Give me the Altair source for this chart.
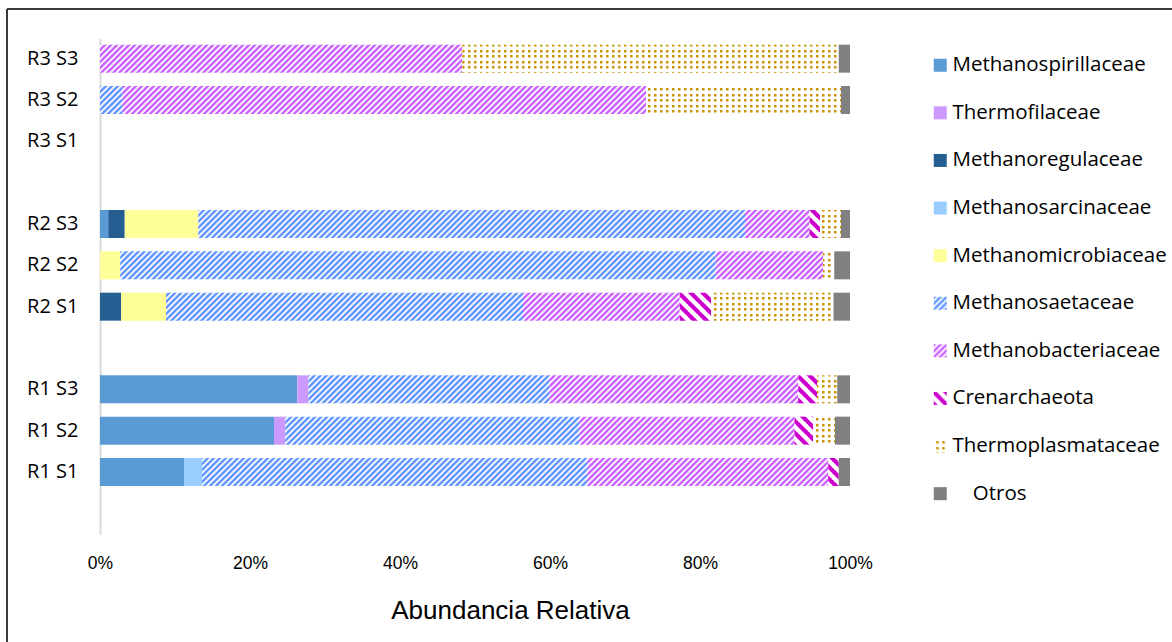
import altair as alt
import jinja2
import pandas as pd

# --- data -------------------------------------------------------------
samples = ["R1 S1", "R1 S2", "R1 S3", "R2 S1", "R2 S2", "R2 S3", "R3 S1", "R3 S2", "R3 S3"]

# rows from top to bottom; blank strings leave an empty band between groups
row_order = ["R3 S3", "R3 S2", "R3 S1", " ", "R2 S3", "R2 S2", "R2 S1", "  ",
             "R1 S3", "R1 S2", "R1 S1", "   "]

family_names = ["Methanospirillaceae", "Thermofilaceae", "Methanoregulaceae",
                "Methanosarcinaceae", "Methanomicrobiaceae", "Methanosaetaceae",
                "Methanobacteriaceae", "Crenarchaeota", "Thermoplasmataceae", "Otros"]

# relative abundance (%) per sample, same order as `samples`
methanospirillaceae = [11.2, 23.2, 26.3, 0.0, 0.0, 1.1, 0.0, 0.0, 0.0]
thermofilaceae = [0.0, 1.5, 1.5, 0.0, 0.0, 0.0, 0.0, 0.0, 0.0]
methanoregulaceae = [0.0, 0.0, 0.0, 2.8, 0.0, 2.2, 0.0, 0.0, 0.0]
methanosarcinaceae = [2.4, 0.0, 0.0, 0.0, 0.0, 0.0, 0.0, 0.0, 0.0]
methanomicrobiaceae = [0.0, 0.0, 0.0, 6.0, 2.7, 9.8, 0.0, 0.0, 0.0]
methanosaetaceae = [51.4, 39.2, 32.1, 47.6, 79.4, 72.9, 0.0, 3.0, 0.0]
methanobacteriaceae = [32.1, 28.7, 33.2, 20.9, 14.3, 8.6, 0.0, 69.8, 48.3]
crenarchaeota = [1.4, 2.5, 2.5, 4.2, 0.0, 1.4, 0.0, 0.0, 0.0]
thermoplasmataceae = [0.0, 2.9, 2.7, 16.3, 1.5, 2.8, 0.0, 26.0, 50.2]
otros = [1.5, 2.0, 1.7, 2.2, 2.1, 1.2, 0.0, 1.2, 1.5]

series = [methanospirillaceae, thermofilaceae, methanoregulaceae, methanosarcinaceae,
          methanomicrobiaceae, methanosaetaceae, methanobacteriaceae, crenarchaeota,
          thermoplasmataceae, otros]

x_ticks = [0, 20, 40, 60, 80, 100]

# solid colours and SVG pattern references (patterns defined in the page template)
fills = ["#5B9BD5", "#CC99FF", "#255E91", "#99CCFF", "#FFFF99",
         "url(#rayas-azul)", "url(#rayas-lila)", "url(#rayas-magenta)",
         "url(#puntos-oro)", "#808080"]

records = []
for k, (name, vals) in enumerate(zip(family_names, series)):
    for s, v in zip(samples, vals):
        if v > 0:
            records.append({"muestra": s, "familia": name, "pct": v, "orden": k})
df = pd.DataFrame(records)

# --- chart ------------------------------------------------------------
bars = alt.Chart(df).mark_bar(size=28).encode(
    x=alt.X(
        "pct:Q",
        stack="zero",
        scale=alt.Scale(domain=[0, 100], nice=False),
        title="Abundancia Relativa",
        axis=alt.Axis(
            values=x_ticks, labelExpr="datum.value + '%'", domain=False, ticks=False,
            grid=False, labelFlush=False,
            labelFont="Liberation Sans", labelFontSize=17.5,
            labelColor="#000000", labelPadding=20,
            titleFont="Liberation Sans", titleFontSize=26,
            titleFontWeight="normal", titleColor="#000000", titlePadding=26,
            titleX=410, titleAlign="center",
        ),
    ),
    y=alt.Y(
        "muestra:N",
        sort=row_order,
        scale=alt.Scale(domain=row_order, paddingInner=0, paddingOuter=0),
        title=None,
        axis=alt.Axis(
            domainColor="#D9D9D9", domainWidth=2, ticks=False, grid=False,
            labelFont="Open Sans", labelFontSize=20, labelColor="#000000", labelPadding=22,
        ),
    ),
    fill=alt.Fill(
        "familia:N",
        scale=alt.Scale(domain=family_names, range=fills),
        legend=alt.Legend(
            title=None, orient="none", legendX=830, legendY=17, direction="vertical",
            symbolType="square", symbolSize=169, symbolStrokeWidth=0,
            labelFont="Open Sans", labelFontSize=20.5, labelColor="#000000",
            labelOffset=2, rowPadding=26.6, padding=0, labelLimit=300,
            # "Otros" is set slightly to the right of the other entries
            labelExpr="datum.label == 'Otros' ? '\u2800\u00a0Otros' : datum.label",
        ),
    ),
    order=alt.Order("orden:Q"),
)

# outer frame of the figure
frame_data = alt.Data(values=[{"f": 1}])
frame_left = alt.Chart(frame_data).mark_rule(color="#3A3A3A", strokeWidth=2).encode(
    x=alt.value(-93), y=alt.value(-29), y2=alt.value(620)
)
frame_top = alt.Chart(frame_data).mark_rule(color="#3A3A3A", strokeWidth=2).encode(
    x=alt.value(-93), x2=alt.value(1090), y=alt.value(-29)
)

chart = alt.layer(frame_left, frame_top, bars).properties(
    width=750,
    height=496,
    padding={"left": 100, "top": 38, "right": 322, "bottom": 108},
    autosize=alt.AutoSizeParams(type="none"),
    background="#FFFFFF",
).configure_view(stroke=None)

# page template with the hatch / dot patterns used by the fills above
PAGE = jinja2.Template("""<!DOCTYPE html>
<html>
<head>
<meta charset="utf-8">
<style>body { margin: 0; }</style>
<script type="text/javascript" src="{{ base_url }}/vega@{{ vega_version }}"></script>
<script type="text/javascript" src="{{ base_url }}/vega-lite@{{ vegalite_version }}"></script>
<script type="text/javascript" src="{{ base_url }}/vega-embed@{{ vegaembed_version }}"></script>
</head>
<body>
<svg width="0" height="0" style="position:absolute">
  <defs>
    <pattern id="rayas-azul" patternUnits="userSpaceOnUse" width="6" height="6">
      <rect width="6" height="6" fill="#FFFFFF"/>
      <path d="M-1,1 L1,-1 M0,6 L6,0 M5,7 L7,5" stroke="#6699FF" stroke-width="2.6"/>
    </pattern>
    <pattern id="rayas-lila" patternUnits="userSpaceOnUse" width="6" height="6">
      <rect width="6" height="6" fill="#FFFFFF"/>
      <path d="M-1,1 L1,-1 M0,6 L6,0 M5,7 L7,5" stroke="#CC66FF" stroke-width="2.6"/>
    </pattern>
    <pattern id="rayas-magenta" patternUnits="userSpaceOnUse" width="12" height="12">
      <rect width="12" height="12" fill="#FFFFFF"/>
      <path d="M-1,-1 L13,13 M-1,11 L1,13 M11,-1 L13,1" stroke="#CC00CC" stroke-width="4.2"/>
    </pattern>
    <pattern id="puntos-oro" patternUnits="userSpaceOnUse" width="6" height="11">
      <rect width="6" height="11" fill="#FFFFFF"/>
      <rect x="2" y="1" width="2.5" height="2.5" fill="#C99400"/>
      <rect x="2" y="6" width="2.5" height="2.5" fill="#C99400"/>
    </pattern>
  </defs>
</svg>
<div id="{{ output_div }}"></div>
<script type="text/javascript">
  vegaEmbed("#{{ output_div }}", {{ spec }}, {{ embed_options }}).catch(console.error);
</script>
</body>
</html>
""")

chart.save("out.html", embed_options={"renderer": "svg", "actions": False}, template=PAGE)
